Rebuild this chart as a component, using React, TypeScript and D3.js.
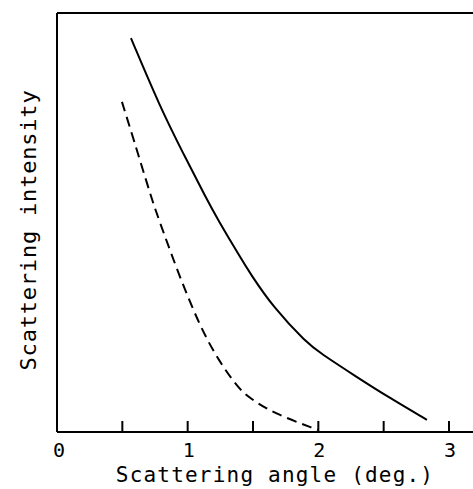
import React from 'react';
import * as d3 from 'd3';

// angles (deg.) and relative intensity
const solidAngle = [0.566, 0.788, 0.964, 1.148, 1.224, 1.4, 1.477, 1.653, 1.913, 2.012, 2.295, 2.548, 2.831];
const solidIntensity = [94, 77.6, 66.6, 55.4, 51.1, 41.8, 37.9, 29.8, 21.2, 18.9, 13.1, 8.1, 2.9];
const dashedAngle = [0.497, 0.581, 0.727, 0.773, 0.918, 1.094, 1.247, 1.4, 1.477, 1.653, 1.997];
const dashedIntensity = [78.8, 70.4, 55.4, 51.3, 38.7, 25.1, 16.5, 10, 8.1, 4.5, 0.5];
const tickValues = [0, 0.5, 1, 1.5, 2, 2.5, 3, 3.5];
const tickLabels = ['0', '1', '2', '3'];

const W = 473;
const H = 489;
const left = 57;
const top = 13;
const bottom = 432;
const font = '"DejaVu Sans Mono", monospace';

export default function App() {
  const x = d3.scaleLinear().domain([0, 3]).range([left, 449]);
  const y = d3.scaleLinear().domain([0, 100]).range([bottom, top]);

  const line = d3.line<[number, number]>()
    .x(d => x(d[0]))
    .y(d => y(d[1]))
    .curve(d3.curveBasis);

  const solid = solidAngle.map((a, i) => [a, solidIntensity[i]] as [number, number]);
  const dashed = dashedAngle.map((a, i) => [a, dashedIntensity[i]] as [number, number]);

  return (
    <svg width={W} height={H} style={{ position: 'absolute', left: 0, top: 0, background: '#fff' }}>
      {/* frame */}
      <line x1={left} y1={top} x2={W} y2={top} stroke="#000" strokeWidth={2} />
      <line x1={left} y1={top} x2={left} y2={bottom} stroke="#000" strokeWidth={2} />
      <line x1={left} y1={bottom} x2={W} y2={bottom} stroke="#000" strokeWidth={2} />
      {tickValues.map(t => (
        <line key={t} x1={x(t)} x2={x(t)} y1={bottom} y2={bottom - 11} stroke="#000" strokeWidth={2} />
      ))}
      {tickLabels.map(l => (
        <text key={l} x={x(+l) + (l === '0' ? 2 : 1)} y={457} textAnchor="middle"
          fontFamily={font} fontSize={20} fill="#000">{l}</text>
      ))}
      <text x={275} y={482} textAnchor="middle" fontFamily={font} fontSize={21}
        letterSpacing={1.2} fill="#000">
        Scattering angle (deg.)
      </text>
      <text transform="translate(36,230) rotate(-90)" textAnchor="middle" fontFamily={font}
        fontSize={22} letterSpacing={0.8} fill="#000">
        Scattering intensity
      </text>

      <path d={line(solid) || ''} fill="none" stroke="#000" strokeWidth={2} />
      <path d={line(dashed) || ''} fill="none" stroke="#000" strokeWidth={2} strokeDasharray="10,6" />
    </svg>
  );
}
